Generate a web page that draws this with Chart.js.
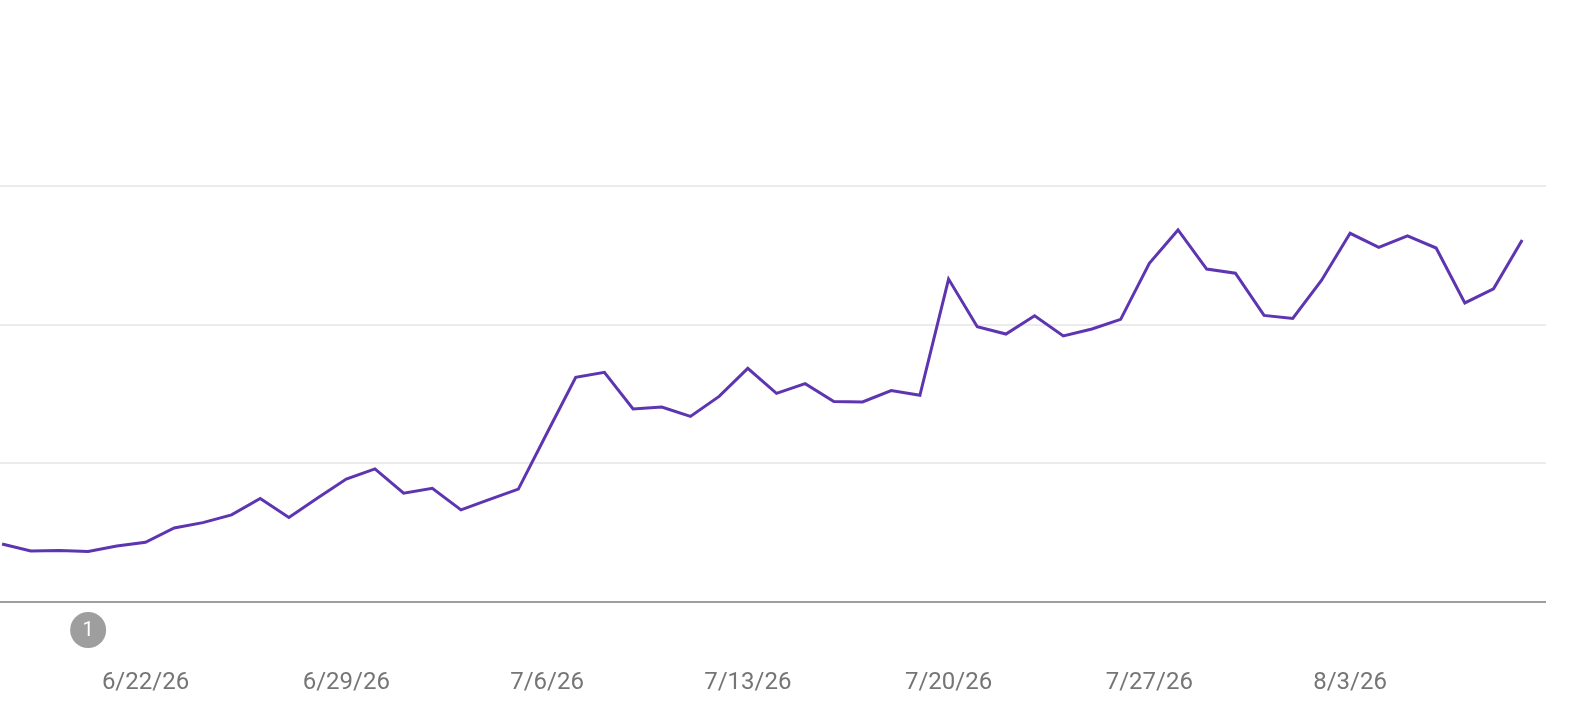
<!DOCTYPE html>
<html>
<head>
<meta charset="utf-8">
<script src="https://cdn.jsdelivr.net/npm/chart.js@4"></script>
<style>
  body { margin: 0; background: #fff; }
  #wrap { width: 1570px; height: 728px; }
</style>
</head>
<body>
<div id="wrap"><canvas id="trendChart" width="1570" height="728"></canvas></div>
<script>
// daily dates (x categories)
const dates = [
  "6/17/26", "6/18/26", "6/19/26", "6/20/26", "6/21/26", "6/22/26", "6/23/26", "6/24/26",
  "6/25/26", "6/26/26", "6/27/26", "6/28/26", "6/29/26", "6/30/26", "7/1/26", "7/2/26",
  "7/3/26", "7/4/26", "7/5/26", "7/6/26", "7/7/26", "7/8/26", "7/9/26", "7/10/26",
  "7/11/26", "7/12/26", "7/13/26", "7/14/26", "7/15/26", "7/16/26", "7/17/26", "7/18/26",
  "7/19/26", "7/20/26", "7/21/26", "7/22/26", "7/23/26", "7/24/26", "7/25/26", "7/26/26",
  "7/27/26", "7/28/26", "7/29/26", "7/30/26", "7/31/26", "8/1/26", "8/2/26", "8/3/26",
  "8/4/26", "8/5/26", "8/6/26", "8/7/26", "8/8/26", "8/9/26"
];

// series values
const values = [
  20.9, 18.4, 18.6, 18.2, 20.2, 21.5, 26.7, 28.6,
  31.4, 37.3, 30.5, 37.5, 44.3, 48.0, 39.2, 41.0,
  33.2, 37.0, 40.7, 60.9, 81.0, 82.8, 69.6, 70.3,
  66.9, 74.1, 84.2, 75.2, 78.7, 72.3, 72.1, 76.2,
  74.5, 116.4, 99.2, 96.6, 103.2, 95.9, 98.4, 101.9,
  122.1, 134.1, 120.0, 118.5, 103.3, 102.2, 115.9, 132.9,
  127.8, 132.0, 127.6, 107.8, 112.9, 130.5
];

// x tick labels (weekly)
const tickLabels = ["6/22/26", "6/29/26", "7/6/26", "7/13/26", "7/20/26", "7/27/26", "8/3/26"];

// y grid lines (no labels shown)
const yGrid = [0, 50, 100, 150];

// annotation markers under the axis
const noteDates = ["6/20/26"];
const noteLabels = ["1"];

const points = values.map((v, i) => ({ x: i, y: v }));

// plugin for the little numbered circles under the axis
const notesPlugin = {
  id: "notes",
  afterDraw(chart) {
    const ctx = chart.ctx;
    const xScale = chart.scales.x;
    const yBase = chart.chartArea.bottom + 28;
    noteDates.forEach((d, i) => {
      const px = xScale.getPixelForValue(dates.indexOf(d));
      ctx.save();
      ctx.fillStyle = "#9e9e9e";
      ctx.beginPath();
      ctx.arc(px, yBase, 18, 0, Math.PI * 2);
      ctx.fill();
      ctx.fillStyle = "#ffffff";
      ctx.font = "20px Roboto";
      ctx.textAlign = "center";
      ctx.textBaseline = "middle";
      ctx.fillText(noteLabels[i], px, yBase + 1);
      ctx.restore();
    });
  },
};

const ctx = document.getElementById("trendChart").getContext("2d");
new Chart(ctx, {
  type: "line",
  data: {
    datasets: [
      {
        data: points,
        borderColor: "#5e35b1",
        borderWidth: 3,
        pointRadius: 0,
        tension: 0,
        fill: false,
      },
    ],
  },
  options: {
    responsive: false,
    animation: false,
    devicePixelRatio: 1,
    layout: { padding: { left: 0, right: 24, top: 0, bottom: 0 } },
    plugins: {
      legend: { display: false },
      tooltip: { enabled: false },
    },
    scales: {
      x: {
        type: "linear",
        min: -0.073,
        max: 53.83,
        afterBuildTicks: (scale) => {
          scale.ticks = tickLabels.map((t) => ({ value: dates.indexOf(t) }));
        },
        afterFit: (scale) => {
          scale.height = 126; // keeps the axis line at y=602
        },
        grid: { display: false, drawTicks: false },
        border: { display: false },
        ticks: {
          autoSkip: false,
          maxRotation: 0,
          padding: 67,
          color: "#757575",
          font: { family: "Roboto", size: 24 },
          callback: (v) => dates[v],
        },
      },
      y: {
        min: 0,
        max: 217,
        afterBuildTicks: (scale) => {
          scale.ticks = yGrid.map((v) => ({ value: v }));
        },
        grid: {
          drawTicks: false,
          color: (c) => (c.tick && c.tick.value === 0 ? "#9e9e9e" : "#ebebeb"),
          lineWidth: 2,
        },
        border: { display: false },
        ticks: { display: false },
      },
    },
  },
  plugins: [notesPlugin],
});
</script>
</body>
</html>
